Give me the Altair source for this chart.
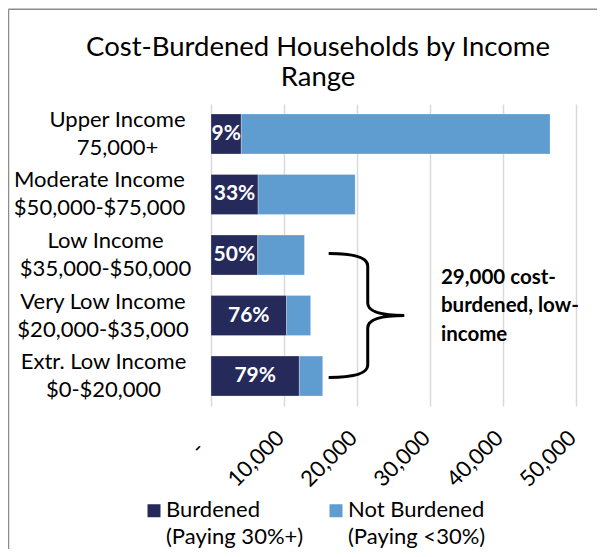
import altair as alt
import pandas as pd

# ---------------- data ----------------
categories = ["Upper Income", "Moderate Income", "Low Income", "Very Low Income", "Extr. Low Income"]
ranges = ["75,000+", "$50,000-$75,000", "$35,000-$50,000", "$20,000-$35,000", "$0-$20,000"]
burdened = [4150, 6450, 6400, 10350, 12100]
not_burdened = [42300, 13300, 6400, 3300, 3200]
series = ["Burdened|(Paying 30%+)", "Not Burdened|(Paying <30%)"]
x_ticks = [0, 10000, 20000, 30000, 40000, 50000]
title_lines = ["Cost-Burdened Households by Income", "Range"]
note_text = "29,000 cost-\nburdened, low-\nincome"
note_row = "Very Low Income"
note_x = 31500
brace_x = 21300

# ---------------- styles ----------------
FONT = "Lato"
DARK = "#262a5b"
LIGHT = "#5f9dd1"
# distance (px) from the axis to the centre of each two-line label block
label_pad = {"Upper Income": 94, "Moderate Income": 112, "Low Income": 106,
             "Very Low Income": 108.5, "Extr. Low Income": 108}

labels = [f"{c}|{r}" for c, r in zip(categories, ranges)]

long_rows = []
for lab, b, n in zip(labels, burdened, not_burdened):
    long_rows.append({"label": lab, "series": series[0], "value": b, "order": 0})
    long_rows.append({"label": lab, "series": series[1], "value": n, "order": 1})
long_df = pd.DataFrame(long_rows)

wide_df = pd.DataFrame({"label": labels, "burdened": burdened, "not_burdened": not_burdened})
wide_df["pct"] = [f"{round(b / (b + n) * 100)}%" for b, n in zip(burdened, not_burdened)]

row_label = labels[categories.index(note_row)]
note_df = pd.DataFrame({"label": [row_label], "x": [note_x], "text": [note_text]})
brace_df = pd.DataFrame({"label": [row_label], "x": [brace_x]})
frame_df = pd.DataFrame({"a": [0]})

expr = ""
for c, lab in zip(categories, labels):
    expr += f"datum.value === '{lab}' ? {label_pad[c]} : "
expr += "106"

yenc = alt.Y(
    "label:N",
    sort=labels,
    scale=alt.Scale(paddingInner=0.34, paddingOuter=0.165),
    axis=alt.Axis(
        title=None,
        labelExpr="split(datum.label, '|')",
        labelAlign="center",
        labelBaseline="middle",
        labelPadding={"expr": expr},
        labelOffset=-14,
        labelFontSize=22,
        labelFont=FONT,
        labelColor="black",
        labelLineHeight=28,
        ticks=False,
        tickSize=0,
        domain=False,
        grid=False,
        labelLimit=0,
    ),
)

xscale = alt.Scale(domain=[0, 50000], nice=False)

bars = alt.Chart(long_df).mark_bar(stroke="white", strokeWidth=0.5, strokeOpacity=0.5).encode(
    x=alt.X(
        "value:Q",
        stack="zero",
        scale=xscale,
        axis=alt.Axis(
            values=x_ticks,
            labelExpr="datum.value == 0 ? '-' : format(datum.value, ',')",
            labelAngle=-45,
            labelAlign="right",
            labelBaseline="middle",
            labelPadding={"expr": "datum.value == 0 ? 38.5 : 28"},
            labelOffset={"expr": "datum.value == 0 ? -11 : -4"},
            labelFontSize=22,
            labelFont=FONT,
            labelColor="black",
            grid=True,
            gridColor="#d9d9d9",
            gridWidth=1.5,
            domain=False,
            ticks=False,
            tickSize=0,
            title=None,
        ),
    ),
    y=yenc,
    color=alt.Color(
        "series:N",
        scale=alt.Scale(domain=series, range=[DARK, LIGHT]),
        legend=alt.Legend(
            orient="none",
            legendX=-68,
            legendY=402,
            direction="horizontal",
            title=None,
            labelExpr="split(datum.label, '|')",
            symbolType="M -1 -2 L 1 -2 L 1 0 L -1 0 Z",
            symbolSize=169,
            symbolStrokeWidth=0,
            labelFontSize=22,
            labelFont=FONT,
            labelColor="black",
            labelBaseline="alphabetic",
            labelOffset=1,
            columnPadding=21,
            labelLimit=0,
            padding=0,
        ),
    ),
    order=alt.Order("order:Q"),
)

pct = alt.Chart(wide_df).transform_calculate(mid="datum.burdened / 2").mark_text(
    color="white", fontWeight="bold", fontSize=21, font=FONT, align="center", baseline="middle"
).encode(x=alt.X("mid:Q", scale=xscale), y=yenc, text="pct:N")

brace = alt.Chart(brace_df).mark_point(
    shape="M -0.61 -1 Q 0.02 -1 0.02 -0.8 L 0.02 -0.2 Q 0.02 0 0.61 0 Q 0.02 0 0.02 0.2 L 0.02 0.8 Q 0.02 1 -0.61 1",
    size=15376,
    filled=False,
    stroke="black",
    strokeWidth=3,
    opacity=1,
).encode(x=alt.X("x:Q", scale=xscale), y=yenc)

note = alt.Chart(note_df).mark_text(
    align="left", baseline="middle", dy=-38, fontSize=20.5, fontWeight="bold", font=FONT,
    lineBreak="\n", lineHeight=28.5, color="black",
).encode(x=alt.X("x:Q", scale=xscale), y=yenc, text="text:N")

frame_left = alt.Chart(frame_df).mark_rule(color="#8c8c8c", strokeWidth=1.5).encode(
    x=alt.value(-202.5), y=alt.value(-94.7), y2=alt.value(445)
)
frame_top = alt.Chart(frame_df).mark_rule(color="#8c8c8c", strokeWidth=1.5).encode(
    x=alt.value(-202.5), x2=alt.value(386), y=alt.value(-94.7)
)

chart = alt.layer(frame_left, frame_top, bars, pct, brace, note).properties(
    width=365,
    height=302,
    title=alt.TitleParams(
        text=title_lines, font=FONT, fontSize=27.5, fontWeight="normal", color="black",
        anchor="middle", frame="group", dx=-75.5, offset=-83, lineHeight=30,
    ),
    autosize=alt.AutoSizeParams(type="none"),
    padding={"left": 203, "top": 96, "right": 21, "bottom": 143},
).configure(
    style={"guide-label": {"lineHeight": 26.5}},
).configure_view(stroke="transparent")

chart.save("out.html", embed_options={"renderer": "svg", "actions": False})
